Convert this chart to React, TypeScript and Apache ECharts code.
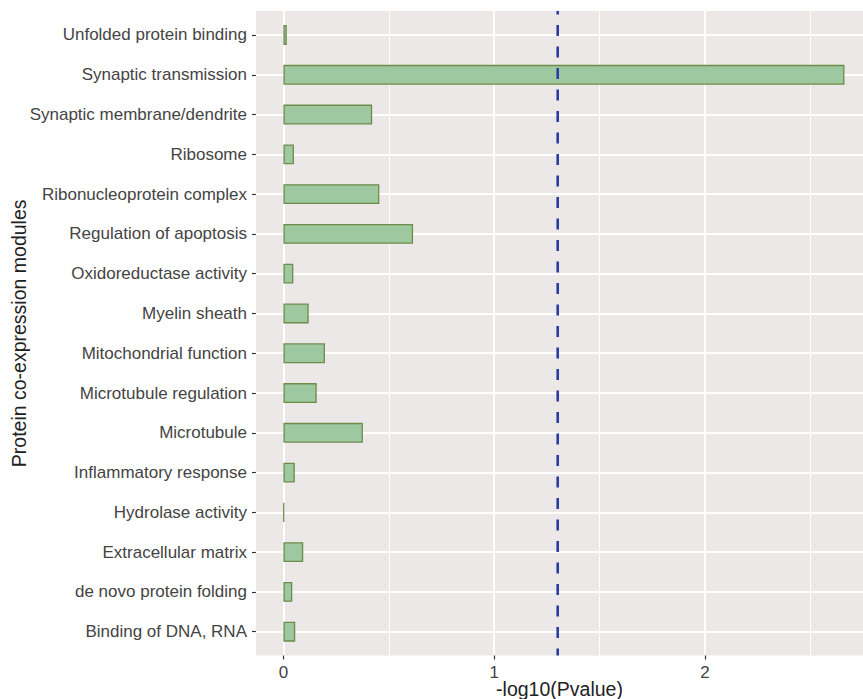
import React, { useEffect, useRef } from "react";
import * as echarts from "echarts";

const categories: string[] = [
  "Unfolded protein binding",
  "Synaptic transmission",
  "Synaptic membrane/dendrite",
  "Ribosome",
  "Ribonucleoprotein complex",
  "Regulation of apoptosis",
  "Oxidoreductase activity",
  "Myelin sheath",
  "Mitochondrial function",
  "Microtubule regulation",
  "Microtubule",
  "Inflammatory response",
  "Hydrolase activity",
  "Extracellular matrix",
  "de novo protein folding",
  "Binding of DNA, RNA",
];

const negLog10P: number[] = [
  0.016, 2.661, 0.421, 0.05, 0.455, 0.615, 0.047, 0.12, 0.197, 0.158, 0.377,
  0.054, 0.003, 0.094, 0.042, 0.056,
];

const majorTicks: number[] = [0, 1, 2];
const minorTicks: number[] = [0.5, 1.5, 2.5];
const significanceLine: number = 1.30103;
const xMin = -0.13;
const xMax = 2.749;

const FONT = "'Liberation Sans', Arial, Helvetica, sans-serif";
const PANEL = "#EBE8E7";

export default function App() {
  const ref = useRef<HTMLDivElement>(null);
  useEffect(() => {
    if (!ref.current) return;
    const chart = echarts.init(ref.current, undefined, { renderer: "svg" });
    chart.setOption({
      animation: false,
      backgroundColor: "#ffffff",
      textStyle: { fontFamily: FONT },
      grid: [
        {
          left: 256,
          right: 0,
          top: 15.1,
          height: 636.5,
          containLabel: false,
          outerBoundsMode: "none",
        },
        {
          left: 256,
          right: 0,
          top: 11,
          bottom: 43.5,
          show: true,
          backgroundColor: PANEL,
          borderWidth: 0,
          containLabel: false,
          outerBoundsMode: "none",
        },
      ],
      xAxis: [
        { type: "value", gridIndex: 0, min: xMin, max: xMax, show: false },
        {
          type: "value",
          gridIndex: 1,
          min: xMin,
          max: xMax,
          axisLine: { show: false, onZero: false },
          axisTick: {
            show: true,
            customValues: majorTicks,
            length: 4,
            lineStyle: { color: "#333333", width: 1.2 },
          },
          axisLabel: {
            customValues: majorTicks,
            fontSize: 17,
            color: "#444444",
            fontFamily: FONT,
            margin: 8.25,
          },
          splitLine: { show: true, lineStyle: { color: "#ffffff", width: 2 } },
          name: "-log10(Pvalue)",
          nameLocation: "middle",
          nameGap: 23.5,
          nameMoveOverlap: false,
          nameTextStyle: { fontSize: 19.5, color: "#222222", fontFamily: FONT },
        },
        {
          type: "value",
          gridIndex: 1,
          min: xMin,
          max: xMax,
          axisLine: { show: false, onZero: false },
          axisTick: { show: false, customValues: minorTicks },
          axisLabel: { show: false, customValues: minorTicks },
          splitLine: { show: true, lineStyle: { color: "#ffffff", width: 1 } },
        },
      ],
      yAxis: [
        {
          type: "category",
          gridIndex: 0,
          data: categories,
          inverse: true,
          axisLine: { show: false, onZero: false },
          axisTick: {
            show: true,
            alignWithLabel: true,
            length: 4,
            lineStyle: { color: "#333333", width: 1.2 },
          },
          axisLabel: {
            fontSize: 17,
            color: "#444444",
            fontFamily: FONT,
            margin: 9,
            interval: 0,
          },
          splitLine: {
            show: true,
            alignWithLabel: true,
            lineStyle: { color: "#ffffff", width: 2 },
          },
          name: "Protein co-expression modules",
          nameLocation: "middle",
          nameGap: 227,
          nameMoveOverlap: false,
          nameTextStyle: { fontSize: 19.5, color: "#222222", fontFamily: FONT },
        },
        { type: "value", gridIndex: 1, min: 0, max: 1, show: false },
      ],
      series: [
        {
          type: "bar",
          xAxisIndex: 0,
          yAxisIndex: 0,
          data: negLog10P,
          barWidth: "50%",
          z: 2,
          itemStyle: {
            color: "#9DC8A0",
            borderColor: "#6E8B48",
            borderWidth: 1.3,
          },
        },
        {
          type: "line",
          xAxisIndex: 1,
          yAxisIndex: 1,
          data: [
            [significanceLine, 0],
            [significanceLine, 1],
          ],
          symbol: "none",
          silent: true,
          z: 5,
          lineStyle: {
            color: "#2B3BA6",
            width: 2.6,
            type: [11, 10.5],
            dashOffset: 3.5,
          },
        },
      ],
    });
    return () => chart.dispose();
  }, []);
  return (
    <div
      ref={ref}
      style={{ position: "absolute", left: 0, top: 0, width: 863, height: 699 }}
    />
  );
}
